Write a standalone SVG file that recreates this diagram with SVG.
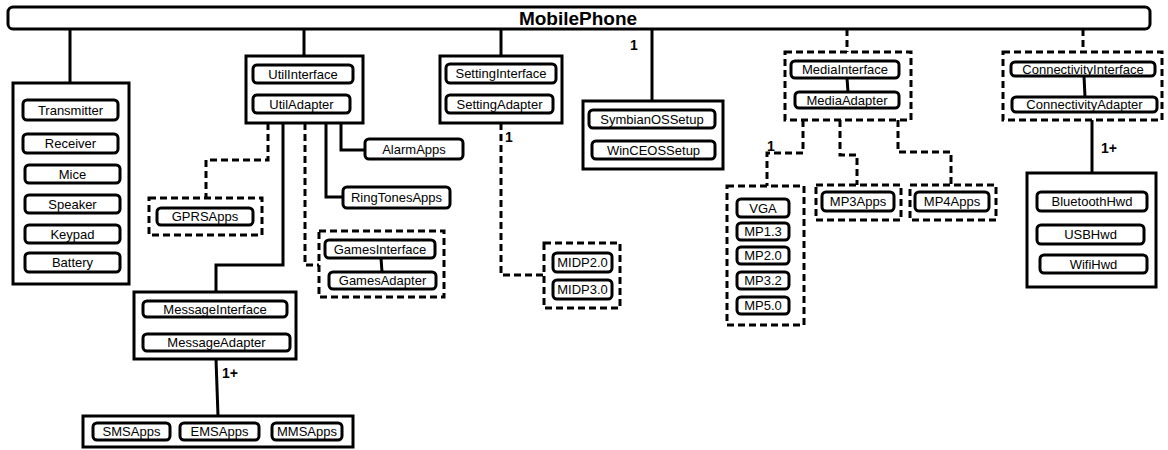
<svg xmlns="http://www.w3.org/2000/svg" width="1168" height="450" viewBox="0 0 1168 450">
<style>
.box{fill:#fff;stroke:#000;stroke-width:3}
.in{fill:#fff;stroke:#000;stroke-width:3}
.dbox{fill:none;stroke:#000;stroke-width:3;stroke-dasharray:7 4}
.ln{fill:none;stroke:#000;stroke-width:3}
.dln{fill:none;stroke:#000;stroke-width:3;stroke-dasharray:7 4}
text{font-family:"Liberation Sans",Arial,sans-serif;font-size:13px;text-anchor:middle;fill:#000}
.title{font-size:19px;font-weight:bold}
.lbl{font-size:14px;font-weight:bold;text-anchor:start}
</style>
<rect width="1168" height="450" fill="#fff"/>
<g id="connectors">
<line class="ln" x1="70" y1="29" x2="70" y2="83"/>
<line class="ln" x1="304" y1="29" x2="304" y2="56"/>
<line class="ln" x1="501" y1="29" x2="501" y2="56"/>
<line class="ln" x1="652" y1="29" x2="652" y2="101"/>
<line class="dln" x1="847" y1="29" x2="847" y2="52"/>
<line class="dln" x1="1083" y1="29" x2="1083" y2="52"/>
<line class="ln" x1="304" y1="83" x2="303" y2="95"/>
<line class="ln" x1="501" y1="83" x2="500" y2="95"/>
<line class="ln" x1="847" y1="78" x2="848" y2="92"/>
<line class="ln" x1="1084" y1="76" x2="1085" y2="97"/>
<line class="ln" x1="216" y1="317" x2="217" y2="334"/>
<line class="ln" x1="381" y1="258" x2="382" y2="272"/>
<polyline class="dln" points="268,123 268,160 206,160 206,198"/>
<polyline class="ln" points="283,123 283,265 216,265 216,292"/>
<polyline class="dln" points="305,123 305,265 319,265"/>
<polyline class="ln" points="326,123 326,197 343,197"/>
<polyline class="ln" points="341,123 341,150 365,150"/>
<polyline class="dln" points="501,123 501,275 544,275"/>
<polyline class="dln" points="803,120 803,153 767,153 767,186"/>
<polyline class="dln" points="840,120 840,155 857,155 857,185"/>
<polyline class="dln" points="898,120 898,152 951,152 951,185"/>
<line class="ln" x1="1092" y1="120" x2="1092" y2="173"/>
<line class="ln" x1="216" y1="359" x2="218" y2="416"/>
<text class="lbl" x="630" y="50">1</text>
<text class="lbl" x="505" y="142">1</text>
<text class="lbl" x="767" y="151">1</text>
<text class="lbl" x="1101" y="153">1+</text>
<text class="lbl" x="222" y="378">1+</text>
</g>
<g id="MobilePhone">
<rect class="box" x="8" y="7" width="1142" height="22" rx="5"/>
<text class="title" x="578" y="25">MobilePhone</text>
</g>
<g id="Hardware">
<rect class="box" x="13" y="83" width="116" height="201"/>
<rect class="in" x="23" y="100" width="95" height="20" rx="4"/><text x="70.5" y="115">Transmitter</text>
<rect class="in" x="23" y="134" width="95" height="19" rx="4"/><text x="70.5" y="148">Receiver</text>
<rect class="in" x="25" y="165" width="95" height="18" rx="4"/><text x="72.5" y="179">Mice</text>
<rect class="in" x="25" y="195" width="95" height="18" rx="4"/><text x="72.5" y="209">Speaker</text>
<rect class="in" x="25" y="225" width="95" height="18" rx="4"/><text x="72.5" y="239">Keypad</text>
<rect class="in" x="25" y="253" width="95" height="19" rx="4"/><text x="72.5" y="267">Battery</text>
</g>
<g id="Util">
<rect class="box" x="246" y="56" width="117" height="67"/>
<rect class="in" x="253" y="65" width="100" height="18" rx="4"/><text x="303" y="79">UtilInterface</text>
<rect class="in" x="253" y="95" width="97" height="18" rx="4"/><text x="301.5" y="109">UtilAdapter</text>
</g>
<g id="GPRS">
<rect class="dbox" x="149" y="198" width="113" height="37"/>
<rect class="in" x="157" y="208" width="96" height="17" rx="4"/><text x="205" y="221">GPRSApps</text>
</g>
<g id="Alarm">
<rect class="in" x="365" y="139" width="98" height="20" rx="4"/><text x="414" y="154">AlarmApps</text>
</g>
<g id="RingTones">
<rect class="in" x="343" y="187" width="107" height="21" rx="4"/><text x="396.5" y="202">RingTonesApps</text>
</g>
<g id="Games">
<rect class="dbox" x="319" y="231" width="125" height="66"/>
<rect class="in" x="325" y="240" width="110" height="18" rx="4"/><text x="380" y="254">GamesInterface</text>
<rect class="in" x="329" y="272" width="107" height="17" rx="4"/><text x="382.5" y="285">GamesAdapter</text>
</g>
<g id="Message">
<rect class="box" x="134" y="292" width="162" height="67"/>
<rect class="in" x="143" y="301" width="144" height="16" rx="4"/><text x="215" y="314">MessageInterface</text>
<rect class="in" x="143" y="334" width="147" height="17" rx="4"/><text x="216.5" y="347">MessageAdapter</text>
</g>
<g id="MessagingApps">
<rect class="box" x="83" y="416" width="270" height="31"/>
<rect class="in" x="93" y="423" width="77" height="17" rx="4"/><text x="131.5" y="436">SMSApps</text>
<rect class="in" x="180" y="423" width="79" height="17" rx="4"/><text x="219.5" y="436">EMSApps</text>
<rect class="in" x="272" y="423" width="70" height="17" rx="4"/><text x="307" y="436">MMSApps</text>
</g>
<g id="Setting">
<rect class="box" x="440" y="56" width="122" height="67"/>
<rect class="in" x="446" y="64" width="110" height="19" rx="4"/><text x="501" y="78">SettingInterface</text>
<rect class="in" x="446" y="95" width="107" height="18" rx="4"/><text x="499.5" y="109">SettingAdapter</text>
</g>
<g id="MIDP">
<rect class="dbox" x="544" y="243" width="76" height="65"/>
<rect class="in" x="553" y="253" width="59" height="19" rx="4"/><text x="582.5" y="267">MIDP2.0</text>
<rect class="in" x="553" y="280" width="59" height="19" rx="4"/><text x="582.5" y="294">MIDP3.0</text>
</g>
<g id="OSSetup">
<rect class="box" x="583" y="101" width="140" height="68"/>
<rect class="in" x="589" y="110" width="126" height="18" rx="4"/><text x="652" y="124">SymbianOSSetup</text>
<rect class="in" x="592" y="141" width="123" height="18" rx="4"/><text x="653.5" y="155">WinCEOSSetup</text>
</g>
<g id="Media">
<rect class="dbox" x="785" y="52" width="126" height="68"/>
<rect class="in" x="791" y="61" width="108" height="17" rx="4"/><text x="845" y="74">MediaInterface</text>
<rect class="in" x="795" y="92" width="104" height="16" rx="4"/><text x="847" y="105">MediaAdapter</text>
</g>
<g id="Formats">
<rect class="dbox" x="727" y="186" width="77" height="139"/>
<rect class="in" x="737" y="199" width="52" height="18" rx="4"/><text x="763" y="213">VGA</text>
<rect class="in" x="737" y="223" width="52" height="17" rx="4"/><text x="763" y="236">MP1.3</text>
<rect class="in" x="737" y="247" width="52" height="17" rx="4"/><text x="763" y="260">MP2.0</text>
<rect class="in" x="737" y="272" width="52" height="17" rx="4"/><text x="763" y="285">MP3.2</text>
<rect class="in" x="737" y="297" width="52" height="17" rx="4"/><text x="763" y="310">MP5.0</text>
</g>
<g id="MP3">
<rect class="dbox" x="816" y="185" width="85" height="35"/>
<rect class="in" x="822" y="192" width="72" height="19" rx="4"/><text x="858" y="206">MP3Apps</text>
</g>
<g id="MP4">
<rect class="dbox" x="910" y="185" width="86" height="35"/>
<rect class="in" x="915" y="192" width="74" height="19" rx="4"/><text x="952" y="206">MP4Apps</text>
</g>
<g id="Connectivity">
<rect class="dbox" x="1003" y="52" width="159" height="68"/>
<rect class="in" x="1011" y="62" width="144" height="14" rx="4"/><text x="1083" y="74">ConnectivityInterface</text>
<rect class="in" x="1012" y="97" width="145" height="15" rx="4"/><text x="1084.5" y="109">ConnectivityAdapter</text>
</g>
<g id="ConnHardware">
<rect class="box" x="1027" y="173" width="129" height="114"/>
<rect class="in" x="1037" y="192" width="110" height="19" rx="4"/><text x="1092" y="206">BluetoothHwd</text>
<rect class="in" x="1037" y="225" width="107" height="19" rx="4"/><text x="1090.5" y="239">USBHwd</text>
<rect class="in" x="1040" y="255" width="107" height="18" rx="4"/><text x="1093.5" y="269">WifiHwd</text>
</g>
</svg>
